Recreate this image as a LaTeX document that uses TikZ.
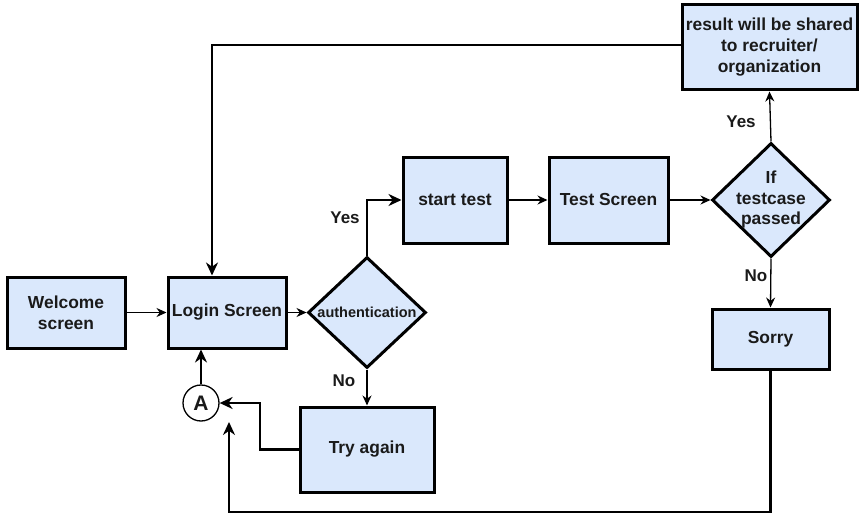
\documentclass[tikz,border=0pt]{standalone}
\usepackage{fontspec}
\setmainfont{Liberation Sans}
\usetikzlibrary{shapes.geometric,arrows.meta}
\definecolor{boxfill}{HTML}{DAE8FC}
\definecolor{ink}{HTML}{1A1A1A}
\tikzset{
  box/.style={draw=black, line width=3pt, fill=boxfill, inner sep=0pt, align=center, text=ink, font=\fontsize{17.4}{21}\selectfont\bfseries},
  dia/.style={draw=black, line width=3pt, fill=boxfill, diamond, inner sep=0pt, shape aspect=1},
  thin/.style={line width=1.3pt, -{Stealth[length=10pt,width=9pt]}},
  thick/.style={line width=2.8pt, -{Stealth[length=13pt,width=12pt]}},
  lbl/.style={text=ink, font=\fontsize{17}{19}\selectfont\bfseries}
}
\begin{document}
\begin{tikzpicture}[x=1pt,y=-1pt]
\useasboundingbox (0,0) rectangle (859,516);
\node[box, minimum width=118pt, minimum height=71pt] (welcome) at (66,312.5) {Welcome\\screen};
\node[box, minimum width=118pt, minimum height=71pt] (login) at (227,312.5) {Login Screen};
\node[dia, minimum width=118pt, minimum height=111pt, label={[text=ink,font=\fontsize{14.5}{16}\selectfont\bfseries]center:authentication}] (auth) at (367,312.5) {};
\node[box, minimum width=104pt, minimum height=86pt] (start) at (455,200) {start test};
\node[box, minimum width=119pt, minimum height=86pt] (test) at (608.5,200) {Test Screen};
\node[dia, minimum width=118pt, minimum height=114pt, label={[align=center,text=ink,font=\fontsize{17.4}{20.5}\selectfont\bfseries]center:If\\testcase\\passed}] (tc) at (771,200) {};
\node[box, minimum width=175pt, minimum height=85pt] (result) at (769.5,47.5) {result will be shared\\to recruiter/\\organization};
\node[box, minimum width=117pt, minimum height=60pt] (sorry) at (770.5,339) {Sorry};
\node[box, minimum width=134pt, minimum height=85pt] (try) at (367,449.5) {Try again};
\node[draw=black, line width=1.3pt, fill=white, circle, minimum size=36pt, inner sep=0pt, text=ink, font=\fontsize{21}{21}\selectfont\bfseries] (A) at (201,403) {A};
\coordinate (aend) at (229,422);
\coordinate (toploop) at (212,45);
\coordinate (trybend) at (260,449.5);
\coordinate (botL) at (229,512);
\coordinate (botR) at (770.5,512);

\draw[thin] (welcome.east) -- (login.west);
\draw[thin] (login.east) -- (auth.west);
\draw[thick] (auth.north) |- (start.west);
\draw[thin] (start.east) -- (test.west);
\draw[thin] (test.east) -- (tc.west);
\draw[thin] (tc.north) -- (result.south);
\draw[thin] (tc.south) -- (sorry.north);
\draw[thin] (auth.south) -- (try.north);
\draw[thick] (try.west) -- (trybend) |- (A.east);
\draw[thick] (A.north) -- (A.north |- login.south);
\draw[thick] (sorry.south) -- (botR) -- (botL) -- (aend);
\draw[thick] (result.west |- toploop) -- (toploop) -- (toploop |- login.north);

\node[lbl] (yes1) at (345,218) {Yes};
\node[lbl] (no1) at (344,381) {No};
\node[lbl] (yes2) at (741,122) {Yes};
\node[lbl] (no2) at (756,276) {No};
\end{tikzpicture}
\end{document}
